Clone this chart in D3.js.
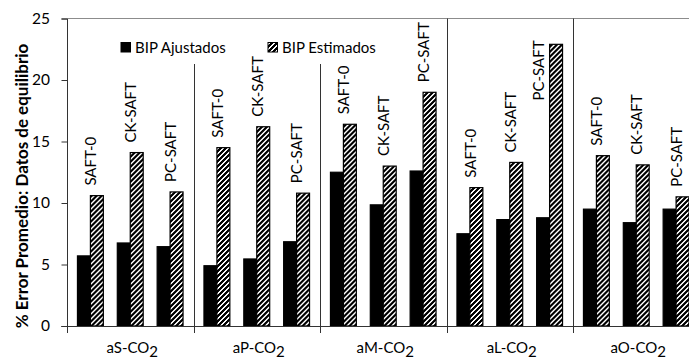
<!DOCTYPE html>
<html>
<head>
<meta charset="utf-8">
<script src="https://cdn.jsdelivr.net/npm/d3@7"></script>
<style>
  html, body { margin: 0; padding: 0; background: #fff; }
  svg { display: block; font-family: Lato, "Open Sans", sans-serif; }
</style>
</head>
<body>
<svg id="chart" width="689" height="361"></svg>
<script>
// Mixtures (each label reads "<group>-CO2") and SAFT variants
const groups = ["aS", "aP", "aM", "aL", "aO"];
const models = ["SAFT-0", "CK-SAFT", "PC-SAFT"];
const seriesNames = ["BIP Ajustados", "BIP Estimados"];
const yTicks = [0, 5, 10, 15, 20, 25];

// Average % error, ordered group by group, model by model
const ajustados = [5.7, 6.75, 6.45,  4.9, 5.45, 6.85,  12.5, 9.85, 12.6,  7.5, 8.65, 8.8,  9.5, 8.4, 9.5];
const estimados = [10.6, 14.1, 10.9,  14.5, 16.2, 10.8,  16.4, 13.0, 19.0,  11.25, 13.3, 22.9,  13.85, 13.1, 10.5];

const rows = [];
groups.forEach((g, gi) => models.forEach((m, mi) => {
  const i = gi * models.length + mi;
  rows.push({ group: g, model: m, values: [ajustados[i], estimados[i]] });
}));

const svg = d3.select("#chart");
const plotLeft = 67, plotRight = 699.5, plotTop = 18.5, plotBottom = 326;

const x0 = d3.scaleBand().domain(groups).range([plotLeft, plotRight]).padding(0);
const x1 = d3.scaleBand().domain(models).range([0, x0.bandwidth()])
  .paddingInner(0.35).paddingOuter(0.2625);
const x2 = d3.scaleBand().domain(seriesNames).range([0, x1.bandwidth()]).padding(0);
const y = d3.scaleLinear().domain([0, 25]).range([plotBottom, plotTop]);

// Hatch for the estimated series (wide upward diagonal)
const hp = 5;
const defs = svg.append("defs");
const pat = defs.append("pattern").attr("id", "hatch")
  .attr("patternUnits", "userSpaceOnUse").attr("width", hp).attr("height", hp);
pat.append("rect").attr("width", hp).attr("height", hp).attr("fill", "#fff");
pat.append("path")
  .attr("d", `M-1,1 L1,-1 M0,${hp} L${hp},0 M${hp - 1},${hp + 1} L${hp + 1},${hp - 1}`)
  .attr("stroke", "#000").attr("stroke-width", 1.8)
  .attr("shape-rendering", "crispEdges");

const fills = ["#000", "url(#hatch)"];

// Plot frame: top edge in grey
svg.append("line").attr("x1", plotLeft).attr("x2", 689).attr("y1", plotTop).attr("y2", plotTop)
  .attr("stroke", "#8c8c8c").attr("stroke-width", 1);

// Legend
const legend = svg.append("g").attr("font-size", 15).attr("fill", "#000");
const legendX = [121, 268];
seriesNames.forEach((s, i) => {
  legend.append("rect").attr("x", legendX[i]).attr("y", 42.5).attr("width", 9.5).attr("height", 9.5)
    .attr("fill", fills[i]).attr("stroke", "#000").attr("stroke-width", 1);
  legend.append("text").attr("x", legendX[i] + 14).attr("y", 52.5).text(s);
});
const legendBottom = 62;
const legendLeft = 110, legendRight = 390;

// Group separators (stop below the legend where they would cross it)
groups.slice(1).forEach(g => {
  const xx = Math.round(x0(g)) + 0.5;
  const y1 = (xx > legendLeft && xx < legendRight) ? legendBottom + 2 : plotTop;
  svg.append("line").attr("x1", xx).attr("x2", xx).attr("y1", y1).attr("y2", plotBottom)
    .attr("stroke", "#333").attr("stroke-width", 1);
});

// Bars
const gGroups = svg.append("g").selectAll("g").data(rows).join("g")
  .attr("transform", d => `translate(${x0(d.group) + x1(d.model)},0)`);
gGroups.selectAll("rect")
  .data(d => d.values.map((v, i) => ({ v, s: seriesNames[i], i })))
  .join("rect")
  .attr("x", d => x2(d.s))
  .attr("y", d => y(d.v))
  .attr("width", x2.bandwidth())
  .attr("height", d => y(0) - y(d.v))
  .attr("fill", d => fills[d.i])
  .attr("stroke", "#000").attr("stroke-width", 1.2);

// Model names above each pair
const labelGap = 10;
gGroups.each(function(d) {
  const g = d3.select(this);
  const cx = x1.bandwidth() / 2 + 0.5;
  const t = g.append("text").attr("font-size", 15).attr("fill", "#000").text(d.model);
  const len = t.node().getComputedTextLength();
  const yb = y(d3.max(d.values)) - labelGap;
  if (yb - len < plotTop + 2) {
    // Tall bar: put the name to its upper left instead
    t.attr("text-anchor", "end").attr("dy", "0.35em")
      .attr("transform", `translate(${cx - 11},${plotTop + 22}) rotate(-90)`);
  } else {
    t.attr("text-anchor", "start").attr("dy", "0.35em")
      .attr("transform", `translate(${cx},${yb}) rotate(-90)`);
  }
});

// Y axis
const yAxis = svg.append("g").attr("transform", `translate(${plotLeft},0)`)
  .call(d3.axisLeft(y).tickValues(yTicks).tickSize(5.5).tickPadding(11.5));
yAxis.select(".domain").attr("stroke", "#333");
yAxis.selectAll(".tick line").attr("stroke", "#333");
yAxis.selectAll("text").attr("font-size", 15.5).attr("font-family", "Lato, sans-serif").attr("fill", "#000");

// X axis line and ticks at group boundaries
svg.append("line").attr("x1", plotLeft - 5.5).attr("x2", 689).attr("y1", plotBottom + 0.5).attr("y2", plotBottom + 0.5)
  .attr("stroke", "#333");
const bounds = groups.map(g => x0(g)).concat([x0.range()[1]]);
svg.append("g").selectAll("line").data(bounds).join("line")
  .attr("x1", d => Math.round(d) + 0.5).attr("x2", d => Math.round(d) + 0.5)
  .attr("y1", plotBottom).attr("y2", plotBottom + 7).attr("stroke", "#333");

// Group labels with subscript
const xl = svg.append("g").selectAll("text").data(groups).join("text")
  .attr("x", d => x0(d) + x0.bandwidth() / 2 + 2)
  .attr("y", 353).attr("text-anchor", "middle").attr("font-size", 15).attr("fill", "#000");
xl.append("tspan").text(d => d + "-CO");
xl.append("tspan").attr("dy", 4).attr("font-size", 15).text("2");

// Y title
svg.append("text")
  .attr("transform", "translate(22,186) rotate(-90)")
  .attr("text-anchor", "middle").attr("dy", "0.35em")
  .attr("font-size", 17).attr("font-weight", "bold").attr("fill", "#000")
  .text("% Error Promedio: Datos de equilibrio");
</script>
</body>
</html>
